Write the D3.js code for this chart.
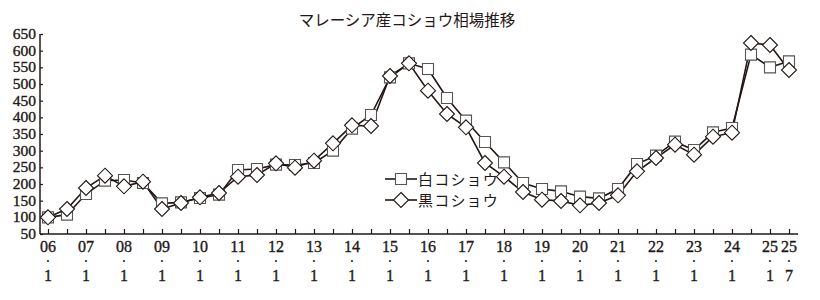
<!DOCTYPE html>
<html>
<head>
<meta charset="utf-8">
<script src="https://cdn.jsdelivr.net/npm/d3@7"></script>
<style>
  body { margin: 0; background: #fff; }
  svg { display: block; }
</style>
</head>
<body>
<svg id="chart" width="820" height="300"></svg>
<script>
// half-year periods, Jan and Jul
const periods = [
  "06.1","06.7","07.1","07.7","08.1","08.7","09.1","09.7","10.1","10.7",
  "11.1","11.7","12.1","12.7","13.1","13.7","14.1","14.7","15.1","15.7",
  "16.1","16.7","17.1","17.7","18.1","18.7","19.1","19.7","20.1","20.7",
  "21.1","21.7","22.1","22.7","23.1","23.7","24.1","24.7","25.1","25.7"
];
const whitePepper = [
  100,108,170,210,212,203,142,145,158,168,
  242,245,258,257,263,300,366,407,520,562,
  545,458,390,326,265,203,185,178,162,157,
  185,260,285,327,302,355,368,588,550,568
];
const blackPepper = [
  100,125,188,225,193,207,125,143,160,173,
  222,227,262,249,270,322,376,374,524,562,
  480,410,370,263,222,176,153,149,136,143,
  166,238,278,318,288,342,354,623,617,542
];
const yTicks = [50,100,150,200,250,300,350,400,450,500,550,600,650];
const seriesNames = ["白コショウ", "黒コショウ"];
const title = "マレーシア産コショウ相場推移";

const ink = "#231815";
const svg = d3.select("#chart");

const x = d3.scalePoint().domain(periods).range([48, 789]);
const y = d3.scaleLinear().domain([50, 650]).range([234, 34]);

// title
svg.append("text")
  .attr("x", 407).attr("y", 26)
  .attr("text-anchor", "middle")
  .attr("font-family", "'Noto Sans CJK JP'")
  .attr("font-size", 15.5)
  .attr("fill", ink)
  .text(title);

// y axis
const yAxis = svg.append("g").attr("transform", "translate(40,0)")
  .call(d3.axisRight(y).tickValues(yTicks).tickSize(3).tickFormat(""));
yAxis.select(".domain").attr("stroke", ink).attr("stroke-width", 1.5)
  .attr("d", `M0,${y(650)}V${y(50)}`);
yAxis.selectAll(".tick line").attr("stroke", ink).attr("stroke-width", 1.2);

svg.append("g").selectAll("text").data(yTicks).join("text")
  .attr("x", 36).attr("y", d => y(d) + 5)
  .attr("text-anchor", "end")
  .attr("font-family", "'Liberation Serif'")
  .attr("font-size", 15.5)
  .attr("fill", ink).attr("stroke", ink).attr("stroke-width", 0.35)
  .text(d => d);

// x axis
const xAxis = svg.append("g").attr("transform", "translate(0,234)")
  .call(d3.axisTop(x).tickSize(5).tickFormat(""));
xAxis.select(".domain").attr("stroke", ink).attr("stroke-width", 1.5)
  .attr("d", "M40,0H798");
xAxis.selectAll(".tick line").attr("stroke", ink).attr("stroke-width", 1.2);

// x labels: year / dot / month, on January points and the last point
const labelled = periods.filter((p, i) => p.endsWith(".1") || i === periods.length - 1);
const lab = svg.append("g").selectAll("g").data(labelled).join("g")
  .attr("transform", d => `translate(${x(d)},0)`)
  .attr("font-family", "'Liberation Serif'")
  .attr("font-size", 16)
  .attr("fill", ink)
  .attr("text-anchor", "middle");
lab.append("text").attr("y", 252).attr("stroke", ink).attr("stroke-width", 0.35)
  .text(d => d.split(".")[0]);
lab.append("text").attr("y", 264).attr("font-size", 8).text("•");
lab.append("text").attr("y", 281).attr("stroke", ink).attr("stroke-width", 0.35)
  .text(d => d.split(".")[1]);

// lines
const line = d3.line().x((d, i) => x(periods[i])).y(d => y(d));
svg.append("path").datum(whitePepper)
  .attr("d", line).attr("fill", "none").attr("stroke", ink).attr("stroke-width", 1.6);
svg.append("path").datum(blackPepper)
  .attr("d", line).attr("fill", "none").attr("stroke", ink).attr("stroke-width", 1.6);

// markers
const sq = 11, dm = 7.5;
const squarePath = `M${-sq/2},${-sq/2}h${sq}v${sq}h${-sq}Z`;
const diamondPath = `M0,${-dm}L${dm},0L0,${dm}L${-dm},0Z`;

svg.append("g").selectAll("path").data(whitePepper).join("path")
  .attr("transform", (d, i) => `translate(${x(periods[i])},${y(d)})`)
  .attr("d", squarePath)
  .attr("fill", "#fff").attr("stroke", "#555").attr("stroke-width", 1.1);
svg.append("g").selectAll("path").data(blackPepper).join("path")
  .attr("transform", (d, i) => `translate(${x(periods[i])},${y(d)})`)
  .attr("d", diamondPath)
  .attr("fill", "#fff").attr("stroke", ink).attr("stroke-width", 1.1);

// legend
const legend = svg.append("g").selectAll("g").data(seriesNames).join("g")
  .attr("transform", (d, i) => `translate(385,${179 + i * 21})`);
legend.append("line").attr("x1", 0).attr("x2", 32)
  .attr("stroke", ink).attr("stroke-width", 1.6);
legend.append("path")
  .attr("transform", "translate(16,0)")
  .attr("d", (d, i) => i === 0 ? squarePath : diamondPath)
  .attr("fill", "#fff").attr("stroke", (d, i) => i === 0 ? "#555" : ink).attr("stroke-width", 1.1);
legend.append("text")
  .attr("x", 33).attr("y", 6)
  .attr("font-family", "'Noto Sans CJK JP'")
  .attr("font-size", 15)
  .attr("letter-spacing", 1.2)
  .attr("fill", ink)
  .text(d => d);
</script>
</body>
</html>
